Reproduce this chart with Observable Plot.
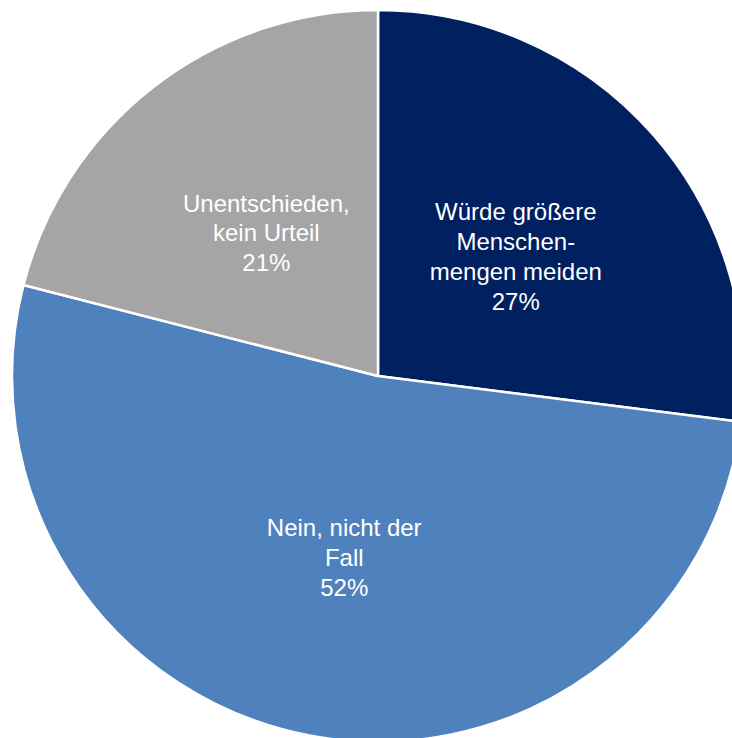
<!DOCTYPE html>
<html>
<head>
<meta charset="utf-8">
<script src="https://cdn.jsdelivr.net/npm/d3@7"></script>
<script src="https://cdn.jsdelivr.net/npm/@observablehq/plot@0.6"></script>
<style>
  html, body { margin: 0; padding: 0; background: #fff; }
  #chart svg { display: block; }
</style>
</head>
<body>
<div id="chart"></div>
<script>
const categories = ["Würde größere Menschenmengen meiden", "Nein, nicht der Fall", "Unentschieden, kein Urteil"];
const labelLines = ["Würde größere\nMenschen-\nmengen meiden", "Nein, nicht der\nFall", "Unentschieden,\nkein Urteil"];
const values = [27, 52, 21];
const colors = ["#002060", "#4F81BD", "#A5A5A5"];

const W = 732, H = 738;
const cx = 378, cy = 376, R = 366;

const pie = d3.pie().sort(null).value(d => d.value);
const data = categories.map((c, i) => ({category: c, value: values[i], label: labelLines[i] + "\n" + values[i] + "%", color: colors[i]}));
const arcs = pie(data);
const arcGen = d3.arc().innerRadius(0).outerRadius(1);
const labelPts = arcs.map(a => {
  const [x, y] = arcGen.centroid(a);
  return {x: x, y: -y, label: a.data.label};
});

const sliceMark = (index, scales) => {
  const x0 = scales.x(0), y0 = scales.y(0);
  const r = scales.x(1) - scales.x(0);
  const arc = d3.arc().innerRadius(0).outerRadius(r);
  const g = d3.create("svg:g").attr("transform", `translate(${x0},${y0})`);
  g.selectAll("path").data(arcs).join("path")
    .attr("d", arc)
    .attr("fill", d => scales.color(d.data.category))
    .attr("stroke", "#fff")
    .attr("stroke-width", 2.5)
    .attr("stroke-linejoin", "round");
  return g.node();
};

const chart = Plot.plot({
  width: W,
  height: H,
  margin: 0,
  x: {domain: [-cx / R, (W - cx) / R], axis: null},
  y: {domain: [(cy - H) / R, cy / R], axis: null},
  color: {domain: categories, range: colors},
  style: {fontFamily: "'Liberation Sans', Arial, sans-serif", background: "#fff"},
  marks: [
    sliceMark,
    Plot.text(labelPts, {
      x: "x", y: "y", text: "label",
      fill: "#fff", fontSize: 24, lineHeight: 1.24,
      textAnchor: "middle", lineAnchor: "middle",
      fontFamily: "'Liberation Sans', Arial, sans-serif"
    })
  ]
});
document.getElementById("chart").appendChild(chart);
</script>
</body>
</html>
